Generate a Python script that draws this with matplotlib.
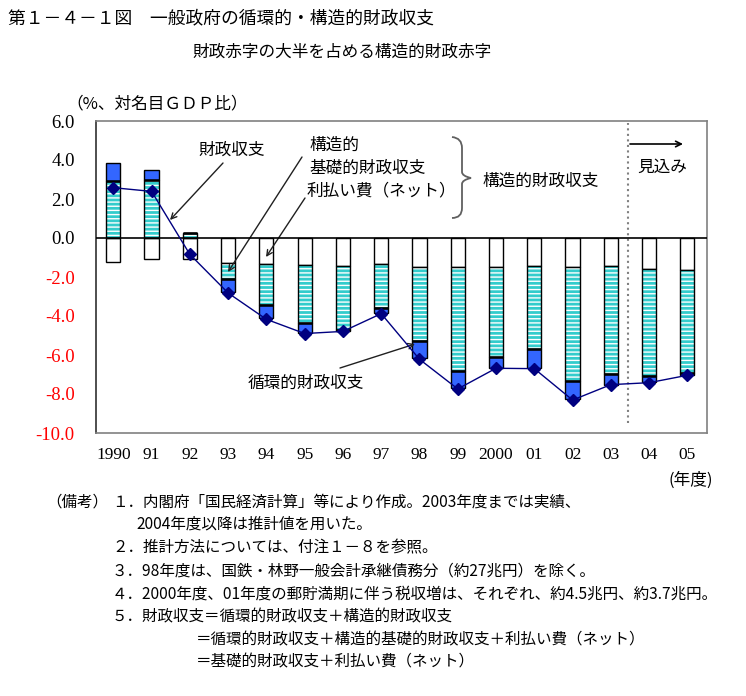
import matplotlib
matplotlib.use('Agg')
import matplotlib.pyplot as plt
import numpy as np
from matplotlib.path import Path
import matplotlib.patches as mpatches

plt.rcParams['font.family'] = ['Noto Sans CJK JP', 'DejaVu Sans']
plt.rcParams['hatch.linewidth'] = 1.0

# ---------------- data ----------------
years = ['1990', '91', '92', '93', '94', '95', '96', '97', '98', '99',
         '2000', '01', '02', '03', '04', '05']
interest_net = [-1.25, -1.09, -1.09, -1.26, -1.32, -1.37, -1.42, -1.35,
                -1.49, -1.49, -1.49, -1.45, -1.49, -1.45, -1.61, -1.66]
structural_primary = [2.92, 2.99, 0.24, -0.83, -2.10, -2.99, -3.28, -2.22,
                      -3.81, -5.31, -4.60, -4.23, -5.86, -5.52, -5.47, -5.28]
cyclical = [0.91, 0.48, 0.0, -0.68, -0.68, -0.51, -0.07, -0.28,
            -0.87, -0.89, -0.56, -1.00, -0.91, -0.55, -0.29, -0.07]
fiscal_balance = [2.58, 2.39, -0.84, -2.82, -4.17, -4.90, -4.79, -3.88,
                  -6.22, -7.74, -6.68, -6.70, -8.31, -7.52, -7.42, -7.04]
yticks = [6, 4, 2, 0, -2, -4, -6, -8, -10]

W, H = 746, 696
fig = plt.figure(figsize=(W / 100, H / 100), dpi=100)


def F(px, py):
    return (px / W, 1 - py / H)


ax_l, ax_r, ax_t, ax_b = 95.7, 707.3, 121, 433
ax = fig.add_axes([ax_l / W, 1 - ax_b / H, (ax_r - ax_l) / W, (ax_b - ax_t) / H])

n = len(years)
x = np.arange(n)
bw = 0.37
pos = np.zeros(n)
neg = np.zeros(n)


def bottoms(vals):
    vals = np.asarray(vals, dtype=float)
    b = np.where(vals >= 0, pos, neg)
    pos[:] += np.where(vals >= 0, vals, 0)
    neg[:] += np.where(vals < 0, vals, 0)
    return vals, b


v, b = bottoms(interest_net)
ax.bar(x, v, bottom=b, width=bw, color='white', edgecolor='black', lw=1.0, zorder=2)
v, b = bottoms(structural_primary)
ax.bar(x, v, bottom=b, width=bw, color='#33CCCC', edgecolor='white', hatch='----',
       lw=0, zorder=2)
ax.bar(x, v, bottom=b, width=bw, fill=False, edgecolor='black', lw=1.0, zorder=3)
v, b = bottoms(cyclical)
ax.bar(x, v, bottom=b, width=bw, color='#3366FF', edgecolor='black', lw=1.0, zorder=3)
# thicker separator between structural primary and cyclical
for xi, bi in zip(x, b):
    ax.plot([xi - bw / 2, xi + bw / 2], [bi, bi], color='black', lw=1.8, zorder=4,
            solid_capstyle='butt')

ax.plot(x, fiscal_balance, color='#000080', lw=1.0, marker='D', ms=6,
        mfc='#000080', mec='#000080', zorder=6)

ax.axhline(0, color='black', lw=1.2, zorder=4)
ax.axvline(13.45, ymin=(433 - 423) / 312, ymax=(433 - 123) / 312, color='#808080',
           lw=1.5, ls=':', zorder=1)

ax.set_xlim(-0.46, 15.52)
ax.set_ylim(-10, 6)
ax.set_yticks(yticks)
ax.set_yticklabels([f'{t:.1f}' for t in yticks], family='Liberation Serif', fontsize=13.5)
for lab, t in zip(ax.get_yticklabels(), yticks):
    lab.set_color('red' if t < 0 else 'black')
ax.set_xticks(x)
ax.set_xticklabels(years, family='Liberation Serif', fontsize=12.5)
ax.tick_params(axis='y', length=0, pad=15)
ax.tick_params(axis='x', length=0, pad=10)
for s in ['top', 'right', 'bottom']:
    ax.spines[s].set_color('#808080')
    ax.spines[s].set_linewidth(1.2)
ax.spines['left'].set_color('#303030')
ax.spines['left'].set_linewidth(1.2)

# ---------------- texts ----------------
fig.text(*F(8, 18), '第１－４－１図　一般政府の循環的・構造的財政収支', fontsize=12.8,
         va='center', ha='left')
fig.text(*F(342, 52), '財政赤字の大半を占める構造的財政赤字', fontsize=12,
         va='center', ha='center')
fig.text(*F(66, 104), '（%、対名目ＧＤＰ比）', fontsize=12, va='center', ha='left')
fig.text(*F(713, 480), '(年度)', fontsize=12, va='center', ha='right')

ann = dict(fontsize=12, va='center', ha='left')
arrow = dict(arrowstyle='->', color='#202020', lw=1.0, shrinkA=0, shrinkB=0)

fig.text(*F(198, 150), '財政収支', **ann)
ax.annotate('', xy=F(170, 220), xycoords='figure fraction', xytext=F(223, 163),
            textcoords='figure fraction', arrowprops=arrow)
fig.text(*F(309, 145), '構造的', **ann)
fig.text(*F(309, 168), '基礎的財政収支', **ann)
ax.annotate('', xy=F(228, 272), xycoords='figure fraction', xytext=F(302, 157),
            textcoords='figure fraction', arrowprops=arrow)
fig.text(*F(307, 191), '利払い費（ネット）', **ann)
ax.annotate('', xy=F(266, 257), xycoords='figure fraction', xytext=F(305, 198),
            textcoords='figure fraction', arrowprops=arrow)
fig.text(*F(482, 181), '構造的財政収支', **ann)
fig.text(*F(248, 383), '循環的財政収支', **ann)
ax.annotate('', xy=F(415, 344), xycoords='figure fraction', xytext=F(340, 368),
            textcoords='figure fraction', arrowprops=arrow)
fig.text(*F(637, 167), '見込み', **ann)
ax.annotate('', xy=F(683, 144), xycoords='figure fraction', xytext=F(630, 144),
            textcoords='figure fraction', arrowprops=dict(arrowstyle='->', color='black',
                                                          lw=1.2, shrinkA=0, shrinkB=0))

# brace
bpts = [(452, 137), (462, 138), (462, 148), (462, 148),
        (462, 172), (462, 176), (471, 178), (462, 180), (462, 184),
        (462, 208), (462, 208), (462, 218), (452, 218)]
verts = [F(*p) for p in bpts]
codes = [Path.MOVETO, Path.CURVE3, Path.CURVE3, Path.LINETO,
         Path.LINETO, Path.CURVE3, Path.CURVE3, Path.CURVE3, Path.CURVE3,
         Path.LINETO, Path.LINETO, Path.CURVE3, Path.CURVE3]
fig.patches.append(mpatches.PathPatch(Path(verts, codes), transform=fig.transFigure,
                                      fill=False, edgecolor='#606060', lw=1.3))

# notes
nf = dict(fontsize=11.2, va='center', ha='left')
fig.text(*F(46, 502), '（備考）', **nf)
fig.text(*F(112, 502), '１．内閣府「国民経済計算」等により作成。2003年度までは実績、', **nf)
fig.text(*F(136, 524), '2004年度以降は推計値を用いた。', **nf)
fig.text(*F(112, 548), '２．推計方法については、付注１－８を参照。', **nf)
fig.text(*F(112, 571), '３．98年度は、国鉄・林野一般会計承継債務分（約27兆円）を除く。', **nf)
fig.text(*F(112, 594), '４．2000年度、01年度の郵貯満期に伴う税収増は、それぞれ、約4.5兆円、約3.7兆円。', **nf)
fig.text(*F(112, 617), '５．財政収支＝循環的財政収支＋構造的財政収支', **nf)
fig.text(*F(196, 640), '＝循環的財政収支＋構造的基礎的財政収支＋利払い費（ネット）', **nf)
fig.text(*F(196, 662), '＝基礎的財政収支＋利払い費（ネット）', **nf)

fig.savefig('out.png', dpi=100)
